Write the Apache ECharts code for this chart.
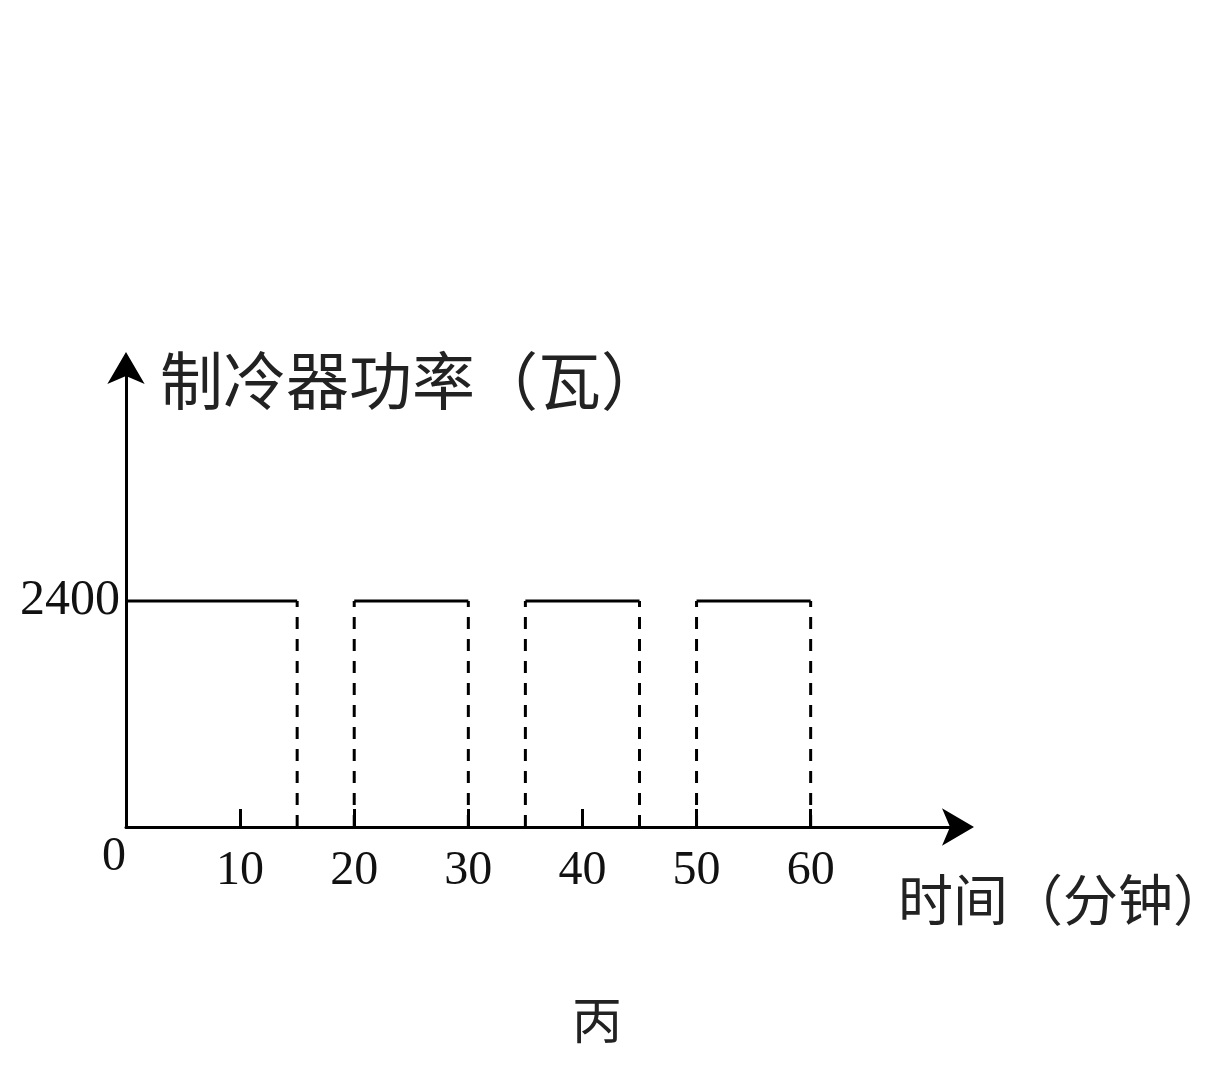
<!DOCTYPE html>
<html><head><meta charset="utf-8">
<script src="https://cdn.jsdelivr.net/npm/echarts@6/dist/echarts.min.js"></script>
<style>html,body{margin:0;padding:0;background:#fff}#c{width:1228px;height:1080px}</style>
</head><body><div id="c"></div>
<script>
// data
const onStart = [0, 20, 35, 50];   // minutes when cooler switches on
const onEnd = [15, 30, 45, 60];    // minutes when cooler switches off
const power = 2400;                // watts when on
const xTicks = [10, 20, 30, 40, 50, 60];
const yTicks = [2400];
const xName = '时间（分钟）';
const yName = '制冷器功率（瓦）';
const caption = '丙';

const topData = [];
const edgeData = [];
onStart.forEach((s, i) => {
  const e = onEnd[i];
  topData.push([s, power], [e, power], '-');
  if (s !== 0) edgeData.push([s, 0], [s, power], '-');
  edgeData.push([e, 0], [e, power], '-');
});

const numFont = '"Liberation Serif", "Times New Roman", serif';
const cjkFont = '"Noto Sans CJK SC", sans-serif';
const chart = echarts.init(document.getElementById('c'));
chart.setOption({
  animation: false,
  backgroundColor: '#fff',
  title: {
    text: caption, left: 567, top: 990,
    textStyle: { fontFamily: cjkFont, fontSize: 50, fontWeight: 'normal', color: '#222' }
  },
  grid: { left: 126, right: 269, top: 375, bottom: 253, outerBoundsMode: 'none', containLabel: false },
  xAxis: [{
    type: 'value', min: 0, max: 73, interval: 10,
    splitLine: { show: false },
    axisLine: { lineStyle: { color: '#000', width: 3 }, symbol: ['none', 'arrow'], symbolSize: [28, 32], symbolOffset: [0, 15] },
    axisTick: { show: true, inside: true, length: 18, lineStyle: { color: '#000', width: 3 }, customValues: xTicks },
    axisLabel: { customValues: xTicks, margin: 20, fontFamily: numFont, fontSize: 48, color: '#111', formatter: v => String(v) },
    name: xName, nameLocation: 'end', nameGap: -61,
    nameTextStyle: { fontFamily: cjkFont, fontSize: 55, color: '#222', align: 'left', verticalAlign: 'top', padding: [45, 0, 0, 0] }
  }, {
    type: 'value', min: 0, max: 73, interval: 10, position: 'bottom',
    splitLine: { show: false }, axisLine: { show: false }, axisTick: { show: false },
    axisLabel: { customValues: [0], align: 'right', margin: 6, fontFamily: numFont, fontSize: 48, color: '#111', formatter: v => String(v) }
  }],
  yAxis: {
    type: 'value', min: 0, max: 4800, interval: 2400,
    splitLine: { show: false },
    axisLine: { lineStyle: { color: '#000', width: 3 }, symbol: ['none', 'arrow'], symbolSize: [28, 32], symbolOffset: [0, 23] },
    axisTick: { show: false },
    axisLabel: { customValues: yTicks, margin: 6, fontFamily: numFont, fontSize: 50, color: '#111', formatter: v => String(v) },
    name: yName, nameLocation: 'end', nameGap: -5,
    nameTextStyle: { fontFamily: cjkFont, fontSize: 63, color: '#222', align: 'left', verticalAlign: 'middle', padding: [0, 0, 0, 34] }
  },
  series: [{
    type: 'line', data: topData, showSymbol: false, connectNulls: false,
    lineStyle: { color: '#000', width: 3 }
  }, {
    type: 'line', data: edgeData, showSymbol: false, connectNulls: false,
    lineStyle: { color: '#000', width: 3, type: [12, 10] }
  }]
});
</script></body></html>
